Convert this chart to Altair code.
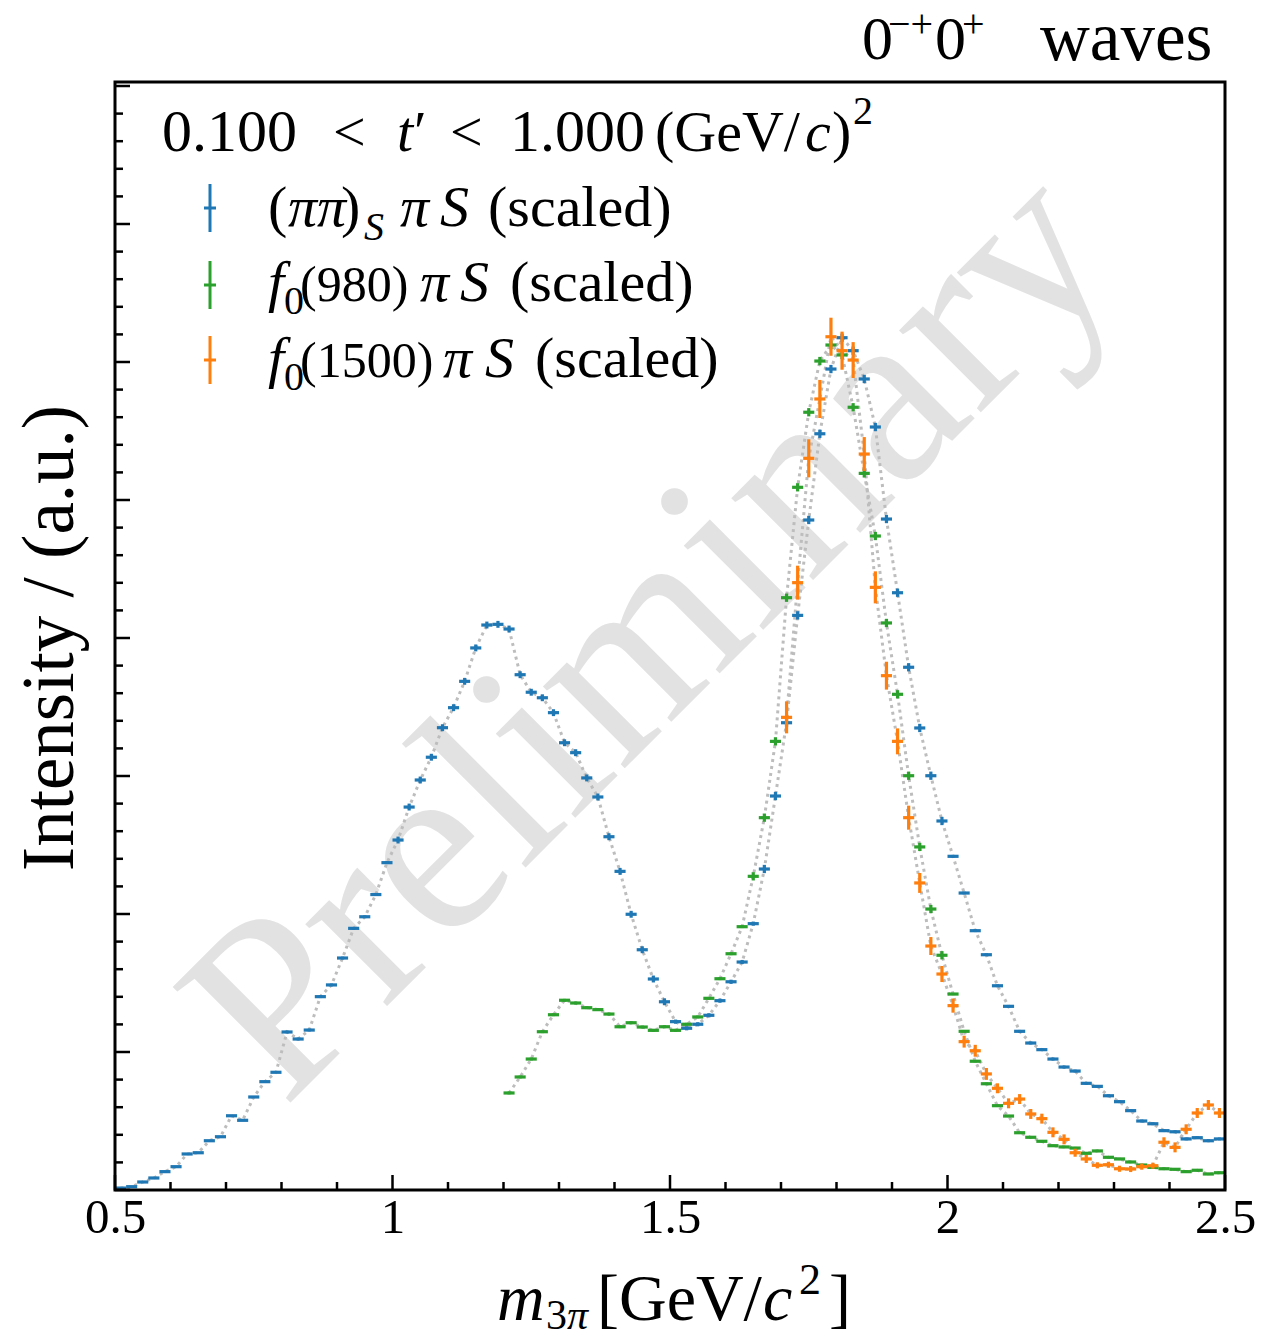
import altair as alt
import numpy as np
import pandas as pd

# ---------------- data ----------------
BIN_W = 0.02
blue_x0 = 0.51
blue_vals = [0.014, 0.024, 0.058, 0.087, 0.133, 0.169, 0.261, 0.270, 0.357, 0.386,
             0.538, 0.505, 0.674, 0.785, 0.853, 1.145, 1.094, 1.159, 1.401, 1.486,
             1.681, 1.896, 1.980, 2.141, 2.372, 2.536, 2.775, 2.971, 3.136, 3.350,
             3.495, 3.686, 3.928, 4.094, 4.099, 4.065, 3.734, 3.607, 3.567, 3.459,
             3.241, 3.169, 2.986, 2.848, 2.560, 2.309, 1.998, 1.741, 1.529, 1.364,
             1.220, 1.172, 1.201, 1.266, 1.372, 1.509, 1.652, 1.930, 2.326, 2.855,
             3.386, 4.164, 4.855, 5.480, 5.949, 6.176, 6.082, 5.877, 5.529, 4.862,
             4.328, 3.788, 3.348, 3.002, 2.674, 2.418, 2.152, 1.879, 1.705, 1.480,
             1.331, 1.150, 1.065, 1.017, 0.949, 0.891, 0.862, 0.773, 0.751, 0.683,
             0.640, 0.575, 0.500, 0.480, 0.430, 0.422, 0.370, 0.379, 0.357, 0.370]
blue_err = ([0.005] * 15 + [0.010] * 10 + [0.025] * 25 + [0.015] * 8 +
            [0.030] * 17 + [0.010] * 25)

green_x0 = 1.21
green_vals = [0.703, 0.819, 0.949, 1.147, 1.270, 1.375, 1.355, 1.321, 1.307, 1.275,
              1.183, 1.212, 1.181, 1.157, 1.183, 1.157, 1.201, 1.254, 1.389, 1.531,
              1.712, 1.908, 2.273, 2.698, 3.251, 4.292, 5.092, 5.636, 6.007, 6.123,
              6.051, 5.672, 5.193, 4.739, 4.109, 3.592, 3.002, 2.486, 2.036, 1.701,
              1.420, 1.150, 0.933, 0.770, 0.611, 0.536, 0.415, 0.382, 0.353, 0.321,
              0.312, 0.304, 0.266, 0.283, 0.237, 0.225, 0.203, 0.181, 0.164, 0.154,
              0.150, 0.133, 0.143, 0.116, 0.125]
green_err = [0.010] * 22 + [0.030] * 18 + [0.008] * 25

orange_x0 = 1.71
orange_vals = [3.425, 4.401, 5.302, 5.732, 6.183, 6.082, 6.014, 5.333, 4.367, 3.727,
               3.251, 2.698, 2.225, 1.768, 1.565, 1.336, 1.075, 1.009, 0.841, 0.737,
               0.628, 0.659, 0.551, 0.517, 0.418, 0.367, 0.270, 0.225, 0.179, 0.183,
               0.154, 0.152, 0.169, 0.176, 0.346, 0.309, 0.440, 0.558, 0.616, 0.558]
orange_err = [0.116, 0.123, 0.138, 0.138, 0.138, 0.138, 0.130, 0.123, 0.116, 0.101,
              0.094, 0.087, 0.072, 0.065, 0.058, 0.051, 0.043, 0.043, 0.043, 0.036,
              0.036, 0.036, 0.036, 0.036, 0.036, 0.036, 0.029, 0.029, 0.022, 0.022,
              0.022, 0.022, 0.022, 0.022, 0.036, 0.036, 0.036, 0.036, 0.036, 0.036]

series_names = ["(ππ)S π S (scaled)", "f0(980) π S (scaled)", "f0(1500) π S (scaled)"]
series_colors = ["#1f77b4", "#2ca02c", "#ff7f0e"]

x_major = [0.5, 1.0, 1.5, 2.0, 2.5]
y_major = [0, 1, 2, 3, 4, 5, 6, 7, 8]

# ---------------- layout ----------------
L, T = 115, 82
W, H = 1110, 1108
FONT = "Liberation Serif"
X_DOMAIN = [0.5, 2.5]
Y_DOMAIN = [0, H / 138.0]

xs = alt.Scale(domain=X_DOMAIN, nice=False, zero=False)
ys = alt.Scale(domain=Y_DOMAIN, nice=False, zero=False)
X_AX = alt.Axis(values=x_major,
                labelExpr="datum.value == 1 ? '1' : datum.value == 2 ? '2' : format(datum.value, '.1f')",
                ticks=False, tickSize=0, domain=False, grid=False, title=None,
                labelFont=FONT, labelFontSize=49, labelColor="black", labelPadding=3,
                labelFlush=False, labelOverlap=False)


def series_df(x0, vals, errs):
    n = len(vals)
    x = np.round(x0 + BIN_W * np.arange(n), 3)
    v = np.array(vals)
    e = np.array(errs)
    return pd.DataFrame({"x": x, "xlo": x - BIN_W / 2, "xhi": x + BIN_W / 2,
                         "y": v, "ylo": v - e, "yhi": v + e})


dfs = [series_df(blue_x0, blue_vals, blue_err),
       series_df(green_x0, green_vals, green_err),
       series_df(orange_x0, orange_vals, orange_err)]

one = pd.DataFrame({"a": [0]})
layers = []

# watermark
layers.append(alt.Chart(one).mark_text(text="Preliminary", font=FONT, fontSize=252, angle=315,
                                       color="#e2e2e2", align="center", baseline="alphabetic")
              .encode(x=alt.value(705 - L), y=alt.value(688 - T)))

# dotted connecting lines
for df in dfs:
    layers.append(alt.Chart(df).mark_line(color="#bdbdbd", strokeWidth=3, strokeDash=[3, 4])
                  .encode(x=alt.X("x:Q", scale=xs, axis=X_AX),
                          y=alt.Y("y:Q", scale=ys, axis=None)))

# error bars
for df, col in zip(dfs, series_colors):
    layers.append(alt.Chart(df).mark_rule(color=col, strokeWidth=3.2)
                  .encode(x=alt.X("xlo:Q", scale=xs, axis=X_AX), x2="xhi:Q",
                          y=alt.Y("y:Q", scale=ys, axis=None)))
    layers.append(alt.Chart(df).mark_rule(color=col, strokeWidth=3.2)
                  .encode(x=alt.X("x:Q", scale=xs, axis=X_AX),
                          y=alt.Y("ylo:Q", scale=ys, axis=None), y2="yhi:Q"))

# inward ticks
x_minor = [v for v in np.round(np.arange(0.5, 2.501, 0.1), 2) if v not in x_major]
y_minor = [v for v in np.round(np.arange(0, 8.01, 0.2), 2) if v not in y_major]
for vals, ln in ((x_major, 15), (x_minor, 8)):
    layers.append(alt.Chart(pd.DataFrame({"v": vals})).mark_rule(color="black", strokeWidth=2.5)
                  .encode(x=alt.X("v:Q", scale=xs, axis=X_AX), y=alt.value(H), y2=alt.value(H - ln)))
for vals, ln in ((y_major, 15), (y_minor, 8)):
    layers.append(alt.Chart(pd.DataFrame({"v": vals})).mark_rule(color="black", strokeWidth=2.5)
                  .encode(y=alt.Y("v:Q", scale=ys, axis=None), x=alt.value(0), x2=alt.value(ln)))

# frame
layers.append(alt.Chart(one).mark_rect(filled=False, stroke="black", strokeWidth=3, fill=None)
              .encode(x=alt.value(0), x2=alt.value(W), y=alt.value(0), y2=alt.value(H)))

# legend symbols
for cy, col in zip([208, 285, 360], series_colors):
    layers.append(alt.Chart(one).mark_rule(color=col, strokeWidth=3)
                  .encode(x=alt.value(210 - L), y=alt.value(cy - 24 - T), y2=alt.value(cy + 24 - T)))
    layers.append(alt.Chart(one).mark_rule(color=col, strokeWidth=3)
                  .encode(x=alt.value(204 - L), x2=alt.value(216 - L), y=alt.value(cy - T)))


def txt(s, px, py, size, style="normal", angle=0, align="left", baseline="alphabetic"):
    return (alt.Chart(one).mark_text(text=s, font=FONT, fontSize=size, fontStyle=style, angle=angle,
                                     align=align, baseline=baseline, color="black")
            .encode(x=alt.value(px - L), y=alt.value(py - T)))


N, I = "normal", "italic"
segments = [
    # t' range header
    ("0.100", 162, 151, 60, N), ("<", 333, 151, 58, N), ("t", 397, 151, 58, I), ("\u2032", 414, 151, 58, N),
    ("<", 450, 151, 58, N), ("1.000", 510, 151, 60, N), ("(GeV/", 655, 151, 58, N),
    ("c", 805, 151, 58, I), (")", 832, 151, 58, N), ("2", 853, 124, 40, N),
    # legend entries
    ("(", 268, 226, 58, N), ("ππ", 288, 226, 58, I), (")", 341, 226, 58, N), ("S", 364, 240, 40, I),
    ("π", 400, 226, 58, I), ("S", 440, 226, 58, I), ("(scaled)", 488, 226, 58, N),
    ("f", 268, 301, 58, I), ("0", 284, 314, 40, N), ("(980)", 300, 301, 50, N),
    ("π", 420, 301, 58, I), ("S", 460, 301, 58, I), ("(scaled)", 510, 301, 58, N),
    ("f", 268, 377, 58, I), ("0", 284, 390, 40, N), ("(1500)", 300, 377, 50, N),
    ("π", 443, 377, 58, I), ("S", 485, 377, 58, I), ("(scaled)", 535, 377, 58, N),
    # top-right title
    ("0", 862, 59, 62, N), ("\u2212+", 888, 37, 40, N), ("0", 935, 59, 62, N), ("+", 962, 37, 40, N),
    ("waves", 1040, 60, 69, N),
    # x-axis title
    ("m", 497, 1320, 66, I), ("3", 546, 1329, 42, N), ("π", 567, 1329, 42, I),
    ("[GeV/", 597, 1320, 66, N), ("c", 763, 1320, 66, I), ("2", 799, 1294, 44, N), ("]", 829, 1320, 66, N),
]
for s, px, py, size, style in segments:
    layers.append(txt(s, px, py, size, style))

# y-axis title
layers.append(txt("Intensity / (a.u.)", 51, 638, 73, N, angle=270, align="center", baseline="middle"))

chart = (alt.layer(*layers)
         .properties(width=W, height=H,
                     padding={"left": L, "top": T, "right": 1282 - L - W, "bottom": 1339 - T - H},
                     autosize=alt.AutoSizeParams(type="none"))
         .configure_view(stroke=None)
         .configure(background="white"))

chart.save("out.html", embed_options={"renderer": "svg", "actions": False})
